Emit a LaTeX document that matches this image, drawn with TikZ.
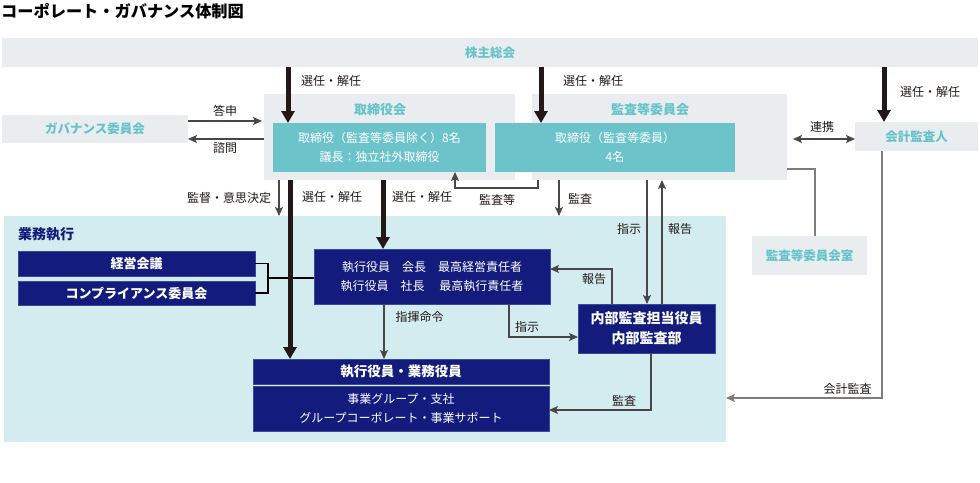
\documentclass[tikz,border=0pt]{standalone}
\usepackage{fontspec}
\setmainfont{Noto Sans CJK JP}
\usetikzlibrary{arrows.meta,calc}
\definecolor{gboxc}{HTML}{E9EDF0}
\definecolor{cyant}{HTML}{66C3CA}
\definecolor{tealc}{HTML}{6CC4CA}
\definecolor{regionc}{HTML}{D3ECEF}
\definecolor{navyc}{HTML}{131C7C}
\definecolor{navyb}{HTML}{3A4A9A}
\definecolor{inkc}{HTML}{231815}
\definecolor{linec}{HTML}{4A4646}
\definecolor{glinec}{HTML}{7F7B7A}
\begin{document}
\begin{tikzpicture}[x=1pt,y=-1pt,
  box/.style={inner sep=0pt, outer sep=0pt, align=center},
  gbox/.style={box, fill=gboxc, text=cyant, font=\fontsize{12.5}{15}\selectfont\bfseries},
  tbox/.style={box, fill=tealc, text=white, font=\fontsize{12}{19.5}\selectfont},
  nbox/.style={box, fill=navyc, draw=navyb, line width=0.8pt, text=white, font=\fontsize{12}{19.5}\selectfont},
  lbl/.style={inner sep=0pt, text=inkc, font=\fontsize{12}{14}\selectfont},
  thickarr/.style={draw=inkc, line width=5pt, -{Triangle[width=13pt,length=12pt]}},
  thinarr/.style={draw=linec, line width=1.2pt, -{Stealth[width=8pt,length=9pt,inset=2pt]}},
  thinline/.style={draw=linec, line width=1.2pt},
  grayline/.style={draw=glinec, line width=1.4pt},
  grayarr/.style={draw=glinec, line width=1.4pt, -{Stealth[width=8pt,length=9pt,inset=2pt]}}
]
\useasboundingbox (0,0) rectangle (980,482);
\fill[white] (0,0) rectangle (980,482);

% title
\node[anchor=west, inner sep=0pt, font=\fontsize{16.2}{18}\selectfont\bfseries, text=black] (title) at (1,11) {コーポレート・ガバナンス体制図};

% shareholders meeting
\node[gbox, minimum width=976pt, minimum height=29pt] (kabu) at (490,52.5) {株主総会};

% board
\node[gbox, minimum width=251pt, minimum height=86pt] (bod) at (389.5,137) {};
\node[box, text=cyant, font=\fontsize{13}{15}\selectfont\bfseries] (bodlbl) at (380,110) {取締役会};
\node[gbox, minimum width=255pt, minimum height=86pt] (acm) at (659.5,137) {};
\node[box, text=cyant, font=\fontsize{13}{15}\selectfont\bfseries] (acmlbl) at (650,110) {監査等委員会};
\node[tbox, minimum width=213pt, minimum height=49pt] (teal1) at (379.5,147.5) {取締役（監査等委員除く）8名\\議長：独立社外取締役};
\node[tbox, minimum width=240pt, minimum height=49pt] (teal2) at (615,147.5) {取締役（監査等委員）\\4名};

% governance committee
\node[gbox, minimum width=186pt, minimum height=28pt] (gov) at (95,129) {ガバナンス委員会};
% accounting auditor
\node[gbox, minimum width=123pt, minimum height=29pt] (kaikei) at (916.5,136.5) {会計監査人};
% audit committee office
\node[gbox, minimum width=115pt, minimum height=39pt] (shitsu) at (809.5,255.5) {監査等委員会室};

% execution region
\node[box, fill=regionc, minimum width=722pt, minimum height=226pt] (region) at (365,329) {};
\node[anchor=west, inner sep=0pt, text=navyc, font=\fontsize{14}{16}\selectfont\bfseries] (reglbl) at (18,234) {業務執行};

\node[nbox, minimum width=237pt, minimum height=25pt, font=\fontsize{13}{15}\selectfont\bfseries] (keiei) at (136.5,263.5) {経営会議};
\node[nbox, minimum width=237pt, minimum height=24pt, font=\fontsize{13}{15}\selectfont\bfseries] (comp) at (136.5,293) {コンプライアンス委員会};
\node[nbox, minimum width=236pt, minimum height=55pt] (exec) at (432,276.5) {執行役員　会長　最高経営責任者\\執行役員　社長　 最高執行責任者};
\node[nbox, minimum width=137pt, minimum height=49pt, font=\fontsize{14}{20}\selectfont\bfseries] (audit) at (646.5,328.5) {内部監査担当役員\\内部監査部};
\node[nbox, minimum width=296pt, minimum height=25pt, font=\fontsize{13.5}{15}\selectfont\bfseries] (biz1) at (401,371.5) {執行役員・業務役員};
\node[nbox, minimum width=296pt, minimum height=45pt, font=\fontsize{12}{19}\selectfont] (biz2) at (401,408.5) {事業グループ・支社\\グループコーポレート・事業サポート};

% bracket between committees and executives
\coordinate (brk) at (268,278);
\draw[thinline, draw=black] (keiei.east) -| (brk) |- (comp.east);
\draw[thinline, draw=black] (brk) -- (exec.west |- brk);

% thick arrows
\draw[thickarr] (288,0 |- kabu.south) -- (288,0 |- teal1.north);
\draw[thickarr] (541,0 |- kabu.south) -- (541,0 |- teal2.north);
\draw[thickarr] (884,0 |- kabu.south) -- (884,0 |- kaikei.north);
\draw[thickarr] (290,0 |- bod.south) -- (290,0 |- biz1.north);
\draw[thickarr] (383,0 |- bod.south) -- (383,0 |- exec.north);

\node[lbl] (l1) at (331,81) {選任・解任};
\node[lbl] (l2) at (593,81) {選任・解任};
\node[lbl] (l3) at (930,92) {選任・解任};
\node[lbl] (l4) at (332,197) {選任・解任};
\node[lbl] (l5) at (422,197) {選任・解任};

% governance arrows
\draw[thinarr] (gov.east |- 0,121) -- ([xshift=-2pt]bod.west |- 0,121);
\draw[thinarr] (bod.west |- 0,139) -- (gov.east |- 0,139);
\node[lbl] (ltoshin) at (225,111) {答申};
\node[lbl] (lshimon) at (225,148) {諮問};

% renkei
\draw[draw=linec, line width=1.2pt, {Stealth[width=8pt,length=9pt,inset=2pt]}-{Stealth[width=8pt,length=9pt,inset=2pt]}] ([xshift=6pt]acm.east |- 0,139) -- (kaikei.west |- 0,139);
\node[lbl] (lrenkei) at (822,127) {連携};

% office line
\draw[grayline] (acm.east |- 0,169) -| (shitsu.north -| 815,0);

% accounting audit
\draw[grayarr] (882,0 |- kaikei.south) -- (882,398) -- (region.east |- 0,398);
\node[lbl] (lkaikeikansa) at (847.5,389) {会計監査};

% supervision
\draw[thinarr] (279,0 |- bod.south) -- (279,0 |- region.north);
\node[lbl] (lkantoku) at (229,198) {監督・意思決定};

% audit etc.
\draw[thinarr] (538,0 |- acm.south) -- (538,188) -- (455,188) -- (455,0 |- teal1.south);
\node[lbl] (lkansato) at (497,200) {監査等};
\draw[thinarr] (559,0 |- acm.south) -- (559,0 |- region.north);
\node[lbl] (lkansa1) at (580,199) {監査};

% instruction/report between committee and internal audit
\draw[thinarr] (647,0 |- acm.south) -- (647,0 |- audit.north);
\draw[thinarr] (662,0 |- audit.north) -- (662,0 |- acm.south);
\node[lbl] (lshiji1) at (629,229) {指示};
\node[lbl] (lhoukoku1) at (680,229) {報告};

% executive arrows
\draw[thinarr] (384,0 |- exec.south) -- (384,0 |- biz1.north);
\node[lbl] (lshiki) at (419.5,317) {指揮命令};
\draw[thinarr] (509,0 |- exec.south) |- (audit.west |- 0,337);
\node[lbl] (lshiji2) at (527,327) {指示};
\draw[thinarr] (612,0 |- audit.north) |- (exec.east |- 0,269);
\node[lbl] (lhoukoku2) at (594,279) {報告};
\draw[thinarr] (651,0 |- audit.south) |- (biz2.east |- 0,410);
\node[lbl] (lkansa2) at (624,401) {監査};
\end{tikzpicture}
\end{document}
